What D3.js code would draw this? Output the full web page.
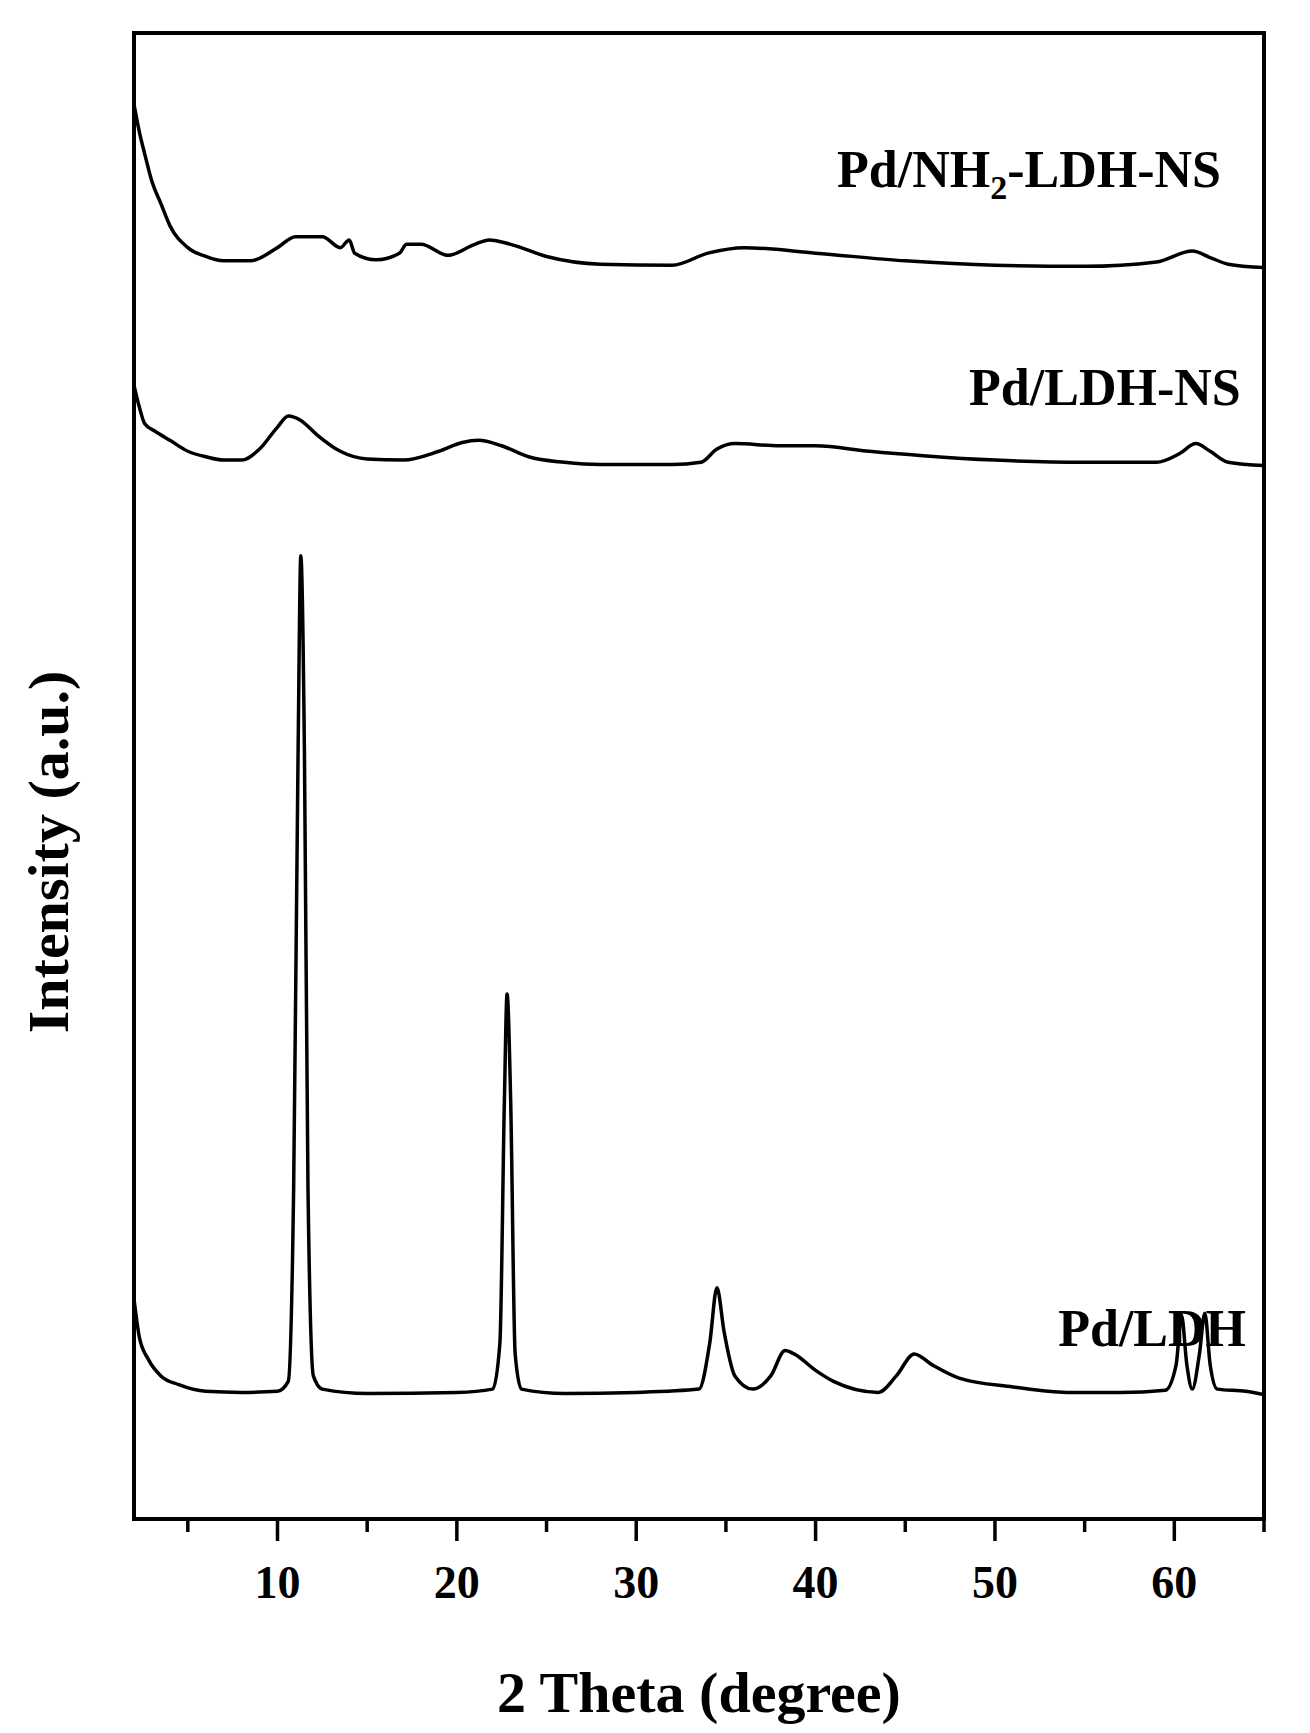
<!DOCTYPE html>
<html><head><meta charset="utf-8">
<script src="https://cdn.jsdelivr.net/npm/d3@7"></script>
<style>body{margin:0;background:#fff}text{font-family:"Liberation Serif","Times New Roman",serif;font-weight:bold}</style>
</head><body><svg id="c" width="1310" height="1733"></svg>
<script>
// XRD patterns: [2theta, intensity (a.u., offset stacked)]
const pdLdh = [[2,200],[2.3,165],[2.8,145],[3.5,130],[4.5,122],[6,116],[8,115],[10,116],[10.6,125],[10.9,300],[11.15,700],[11.3,875],[11.5,700],[11.7,300],[12,130],[12.5,118],[15,114],[20,115],[22,118],[22.4,160],[22.65,380],[22.8,477],[23.0,380],[23.25,150],[23.6,118],[26,114],[30,115],[33.5,118],[34.1,160],[34.5,210],[34.9,170],[35.5,130],[36.5,118],[37.5,130],[38.3,153],[38.8,150],[40,135],[41,125],[43.5,115],[44.5,130],[45.5,150],[46.5,140],[48,128],[51,120],[54,115],[57,115],[59.5,117],[60.1,140],[60.4,185],[60.7,140],[61,118],[61.4,150],[61.7,187],[62,140],[62.4,118],[64,116],[65,113]];
const pdLdhNs = [[2,1030],[2.3,1010],[2.6,995],[3.2,988],[4,980],[5,970],[6,965],[7,962],[8,962],[9,972],[10,992],[10.6,1002],[11.3,998],[12.2,985],[13.5,970],[15,963],[17,962],[19,970],[20.3,978],[21.2,980],[22.5,975],[24,965],[26,960],[28,958],[32,958],[33.6,960],[34.5,972],[35.5,977],[38,975],[40,975],[43,970],[46,966],[50,962],[55,960],[59,960],[60.3,968],[61.2,977],[62,970],[63,960],[65,957]];
const pdNh2 = [[2,1285],[2.3,1260],[2.6,1240],[3,1215],[3.5,1195],[4,1175],[5,1155],[6,1147],[7,1143],[8.5,1143],[10,1155],[11,1165],[12.5,1165],[13.5,1155],[14,1162],[14.3,1150],[15.5,1144],[16.8,1150],[17.2,1158],[18,1158],[19.5,1148],[21,1158],[21.8,1162],[23,1158],[25,1147],[28,1140],[32,1139],[34,1150],[36,1155],[40,1150],[45,1143],[50,1139],[55,1138],[59,1142],[61,1152],[62,1146],[63,1140],[65,1137]];
const majorTicks = [10,20,30,40,50,60];
const minorTicks = [5,15,25,35,45,55,65];
const labels = [{t:"Pd/NH", sub:"2", rest:"-LDH-NS", x:62.6, y:1210},{t:"Pd/LDH-NS", x:63.7, y:1012},{t:"Pd/LDH", x:64.0, y:157}];

const svg = d3.select("#c");
const L=134, R=1264, T=33, B=1519;
const x = d3.scaleLinear().domain([2,65]).range([L,R]);
const y = d3.scaleLinear().domain([0,1350]).range([B,T]);
const line = d3.line().x(d=>x(d[0])).y(d=>y(d[1])).curve(d3.curveMonotoneX);

for (const s of [pdLdh,pdLdhNs,pdNh2])
  svg.append("path").attr("d",line(s)).attr("fill","none").attr("stroke","#000").attr("stroke-width",3.5);

svg.append("rect").attr("x",L).attr("y",T).attr("width",R-L).attr("height",B-T).attr("fill","none").attr("stroke","#000").attr("stroke-width",4);

const ax = svg.append("g").attr("transform",`translate(0,${B})`);
ax.selectAll("line.ma").data(majorTicks).join("line").attr("x1",x).attr("x2",x).attr("y1",0).attr("y2",22).attr("stroke","#000").attr("stroke-width",3.5);
ax.selectAll("line.mi").data(minorTicks).join("line").attr("x1",x).attr("x2",x).attr("y1",0).attr("y2",13).attr("stroke","#000").attr("stroke-width",3.5);
ax.selectAll("text").data(majorTicks).join("text").attr("x",x).attr("y",79).attr("text-anchor","middle").attr("font-size",46).text(d=>d);

svg.append("text").attr("x",(L+R)/2).attr("y",1712).attr("text-anchor","middle").attr("font-size",58).text("2 Theta (degree)");
svg.append("text").attr("transform","translate(68,852) rotate(-90)").attr("text-anchor","middle").attr("font-size",58).text("Intensity (a.u.)");

for (const l of labels) {
  const t = svg.append("text").attr("x",x(l.x)).attr("y",y(l.y)).attr("text-anchor","end").attr("font-size",52).text(l.t);
  if (l.sub) { t.append("tspan").attr("font-size",34).attr("dy",12).text(l.sub); t.append("tspan").attr("dy",-12).text(l.rest); }
}
</script></body></html>
